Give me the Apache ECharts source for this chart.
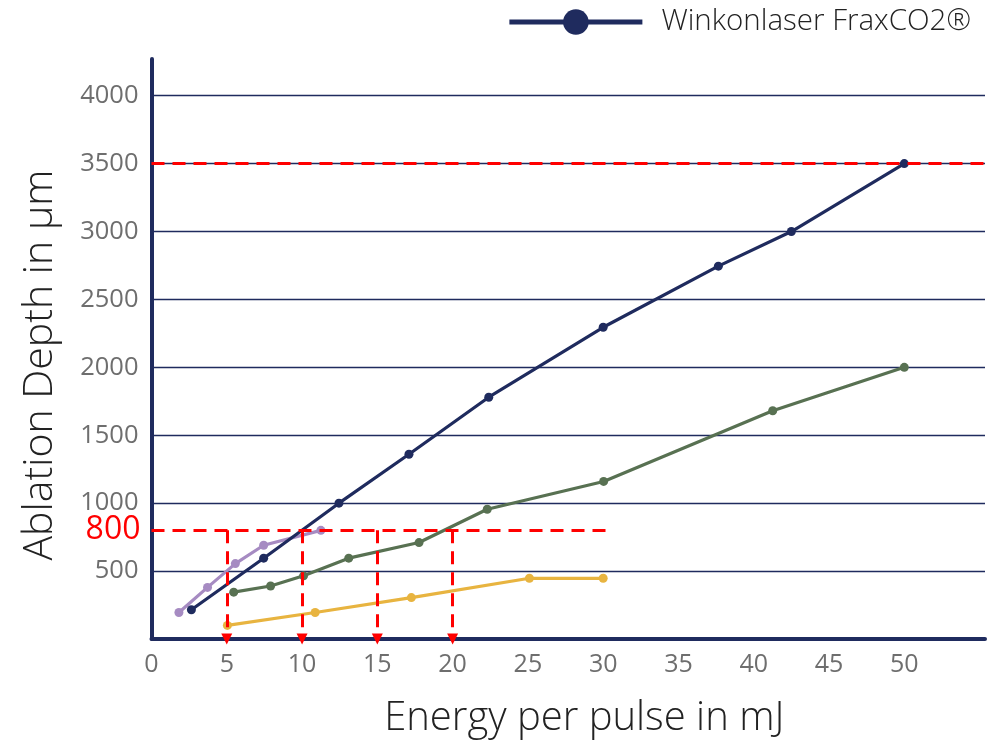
<!DOCTYPE html>
<html><head><meta charset="utf-8">
<script src="https://cdn.jsdelivr.net/npm/echarts@6/dist/echarts.min.js"></script>
<style>html,body{margin:0;padding:0;background:#fff}#c{width:988px;height:746px}</style>
</head><body><div id="c"></div>
<script>
// Data
const seriesName = 'Winkonlaser FraxCO2®';
const navyX = [2.65, 7.45, 12.45, 17.1, 22.4, 30, 37.65, 42.5, 50];
const navyY = [215, 595, 1000, 1360, 1780, 2295, 2745, 3000, 3500];
const purpleX = [1.82, 3.72, 5.57, 7.45, 11.25];
const purpleY = [195, 380, 555, 690, 800];
const greenX = [5.46, 7.91, 10.1, 13.1, 17.77, 22.3, 30.03, 41.26, 50];
const greenY = [345, 390, 465, 595, 710, 955, 1160, 1680, 2000];
const yellowX = [5.04, 10.87, 17.26, 25.1, 30];
const yellowY = [100, 195, 305, 447, 447];
const refDepth = 800;          // red dashed reference level
const refDepthEndX = 30.3;     // where the 800 line stops
const refEnergies = [5, 10, 15, 20];
const maxDepth = 3500;         // red dashed top line
const xMax = 55.36, yMax = 4270;
const xTickMaxLabel = 50, yTickMaxLabel = 4000;

function pairs(xs, ys) { return xs.map((x, i) => [x, ys[i]]); }

const red = '#ff0000';
const navy = '#1f2b5e';
const font = "'Open Sans', 'Noto Sans', sans-serif";

const markLines = [
  [{ coord: [0, refDepth], symbol: 'none', label: { show: true, position: 'start', formatter: String(refDepth), color: red, fontSize: 32, fontFamily: font, distance: 11 } },
   { coord: [refDepthEndX, refDepth], symbol: 'none' }],
  [{ coord: [0, maxDepth], symbol: 'none' }, { coord: [xMax, maxDepth], symbol: 'none' }]
].concat(refEnergies.map(e => [
  { coord: [e, refDepth], symbol: 'none' },
  { coord: [e, 0], symbol: 'triangle', symbolSize: [11, 11], symbolRotate: 180 }
]));

const chart = echarts.init(document.getElementById('c'));
chart.setOption({
  animation: false,
  backgroundColor: '#fff',
  textStyle: { fontFamily: font },
  grid: { left: 151.5, right: 0, top: 59, bottom: 107, containLabel: false },
  legend: {
    data: [seriesName],
    right: 12, top: 2,
    itemWidth: 133, itemHeight: 32,
    lineStyle: { width: 5 },
    textStyle: { fontSize: 29.5, color: '#222', fontFamily: font, fontWeight: 300, padding: [0, 0, 0, 14] }
  },
  xAxis: {
    type: 'value', min: 0, max: xMax, interval: 5,
    name: 'Energy per pulse in mJ', nameLocation: 'middle', nameGap: 60,
    nameTextStyle: { fontSize: 40, color: '#222', fontWeight: 300, padding: [0, 0, 0, 32] },
    axisLine: { show: true, lineStyle: { color: navy, width: 4 } },
    axisTick: { show: false },
    splitLine: { show: false },
    axisLabel: { fontSize: 25, color: '#6e6e6e', margin: 13, showMaxLabel: true,
      formatter: v => (v <= xTickMaxLabel ? String(v) : '') }
  },
  yAxis: {
    type: 'value', min: 0, max: yMax, interval: 500,
    name: 'Ablation Depth in µm', nameLocation: 'middle', nameGap: 91,
    nameTextStyle: { fontSize: 41, color: '#222', fontWeight: 300, padding: [0, 32, 0, 0] },
    axisLine: { show: true, lineStyle: { color: navy, width: 4 } },
    axisTick: { show: false },
    splitLine: { show: true, showMaxLine: false, showMinLine: false, lineStyle: { color: '#1f2b5e', width: 1.3 } },
    axisLabel: { fontSize: 25.5, color: '#6e6e6e', margin: 13,
      formatter: v => (v > 0 && v <= yTickMaxLabel ? String(v) : '') }
  },
  series: [
    { name: 'ref', type: 'line', data: [], silent: true, z: 1,
      markLine: { silent: true, symbol: 'none', animation: false,
        lineStyle: { color: red, width: 3, type: [13, 8] },
        label: { show: false },
        data: markLines } },
    { name: 'purple', type: 'line', data: pairs(purpleX, purpleY), symbol: 'circle', symbolSize: 9,
      lineStyle: { color: '#a68bc2', width: 3.2 }, itemStyle: { color: '#a68bc2' }, z: 3 },
    { name: 'green', type: 'line', data: pairs(greenX, greenY), symbol: 'circle', symbolSize: 9,
      lineStyle: { color: '#587152', width: 3.2 }, itemStyle: { color: '#587152' }, z: 3 },
    { name: 'yellow', type: 'line', data: pairs(yellowX, yellowY), symbol: 'circle', symbolSize: 9,
      lineStyle: { color: '#e8b440', width: 3.2 }, itemStyle: { color: '#e8b440' }, z: 3 },
    { name: seriesName, type: 'line', data: pairs(navyX, navyY), symbol: 'circle', symbolSize: 9,
      lineStyle: { color: navy, width: 3.2 }, itemStyle: { color: navy }, z: 4 }
  ]
});
</script>
</body></html>
